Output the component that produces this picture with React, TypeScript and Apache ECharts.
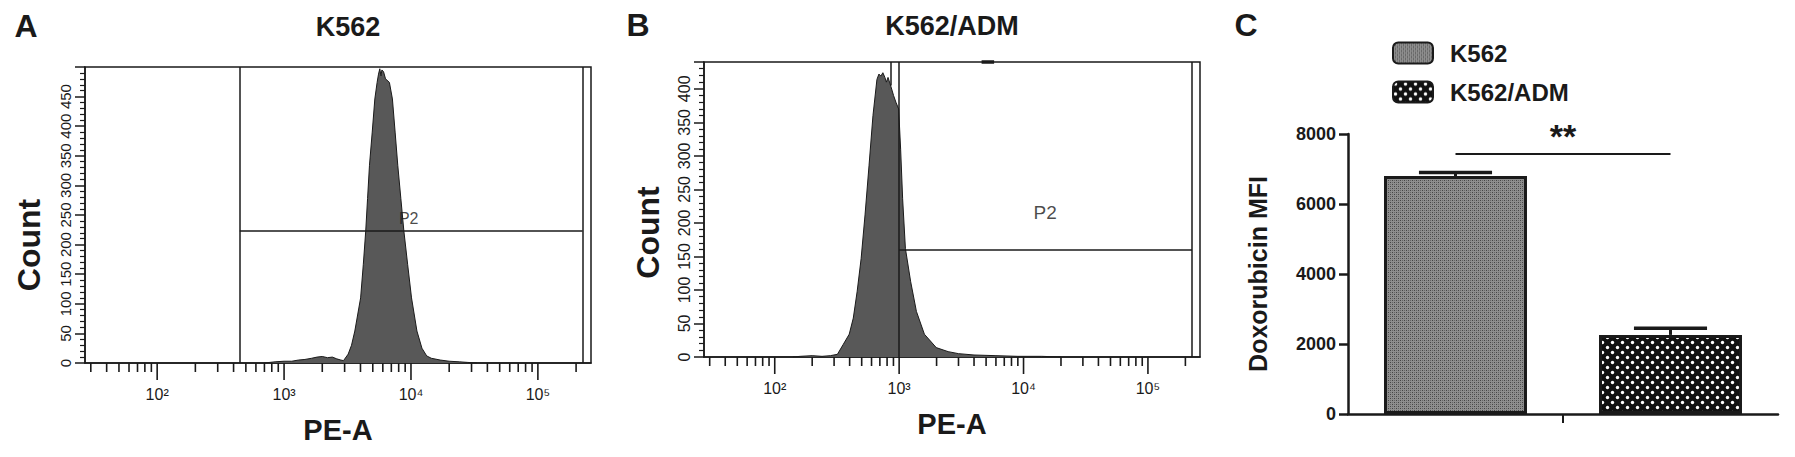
import React, { useEffect, useRef } from 'react';
import * as echarts from 'echarts';

const FONT = '"Liberation Sans", Arial, Helvetica, sans-serif';
const INK = '#1a1a1a';

// ---------- Panel A: K562 histogram (PE-A intensity, count) ----------
const histK562: [number, number][] = [
  [700, 0], [850, 2], [1000, 3], [1150, 3], [1300, 5], [1460, 6], [1650, 8], [1820, 10],
  [2000, 11], [2200, 9], [2400, 10], [2600, 7], [2800, 5], [2940, 4], [3200, 15], [3400, 30],
  [3610, 54], [4010, 110], [4210, 166], [4400, 223], [4550, 278], [4710, 334], [4950, 390],
  [5190, 446], [5410, 474], [5550, 488], [5680, 497], [5800, 485], [5900, 495], [6080, 492],
  [6300, 480], [6760, 474], [7140, 446], [7500, 390], [7870, 334], [8320, 278], [8790, 223],
  [9420, 166], [10100, 110], [11140, 54], [12200, 25], [13300, 12], [14460, 8], [17000, 5],
  [20000, 3], [24000, 2], [28000, 1], [33000, 0],
];

// ---------- Panel B: K562/ADM histogram ----------
const histK562ADM: [number, number][] = [
  [140, 0], [160, 1], [200, 2], [240, 1], [280, 2], [319, 4], [356, 19], [397, 34], [428, 58],
  [460, 98], [495, 147], [532, 212], [573, 286], [616, 360], [663, 414], [688, 422], [713, 419],
  [740, 424], [768, 417], [790, 410], [814, 417], [857, 404], [902, 390], [942, 380], [991, 370],
  [1028, 310], [1067, 236], [1123, 162], [1236, 113], [1377, 68], [1596, 34], [1988, 14],
  [2477, 8], [3000, 5], [4000, 3], [6000, 2], [9000, 1], [14000, 1], [20000, 0],
];

const peRange = [27, 262144];
const countMaxA = 500;
const countMaxB = 440;
const countStep = 50;

const peMajorTicks = [100, 1000, 10000, 100000];
const peMinorTicks = [
  30, 40, 50, 60, 70, 80, 90,
  200, 300, 400, 500, 600, 700, 800, 900,
  2000, 3000, 4000, 5000, 6000, 7000, 8000, 9000,
  20000, 30000, 40000, 50000, 60000, 70000, 80000, 90000,
  200000,
];

// gates: [left edge, level, right edge]
const gateA = [448, 223, 225000];
const gateB = [1000, 160, 226000];
const gateBSecondLine = [850, 405];
const gateBTopMark = [4600, 5800];
const p2LabelA = [9600, 244];
const p2LabelB = [14900, 216];

// ---------- Panel C: Doxorubicin MFI ----------
const groups = ['K562', 'K562/ADM'];
const mfiMean = [6800, 2260];
const mfiSem = [100, 190];
const sigLevel = 7450;
const mfiMax = 8000;
const mfiStep = 2000;

const SUP: Record<number, string> = { 2: '\u00b2', 3: '\u00b3', 4: '\u2074', 5: '\u2075' };

function peLabel(v: number) {
  const e = Math.round(Math.log10(v));
  if (Math.abs(Math.log10(v) - e) < 1e-6 && SUP[e]) return '10' + SUP[e];
  return '';
}

function makeFinePattern() {
  const c = document.createElement('canvas');
  c.width = 4; c.height = 4;
  const g = c.getContext('2d')!;
  g.fillStyle = '#8e8e8e'; g.fillRect(0, 0, 4, 4);
  g.fillStyle = '#444444'; g.fillRect(0, 0, 1, 1); g.fillRect(2, 2, 1, 1);
  g.fillStyle = '#666666'; g.fillRect(2, 0, 1, 1); g.fillRect(0, 2, 1, 1);
  return c;
}

function makeDotPattern() {
  const c = document.createElement('canvas');
  c.width = 10; c.height = 10;
  const g = c.getContext('2d')!;
  g.fillStyle = '#111'; g.fillRect(0, 0, 10, 10);
  g.fillStyle = '#fff';
  g.beginPath(); g.arc(2.5, 2.5, 1.7, 0, Math.PI * 2); g.fill();
  g.beginPath(); g.arc(7.5, 7.5, 1.7, 0, Math.PI * 2); g.fill();
  return c;
}

const lineStyle = { color: INK, width: 1.5 };

function flowXAxis(gridIndex: number) {
  return {
    type: 'log', logBase: 10, gridIndex, min: peRange[0], max: peRange[1],
    axisLine: { show: true, lineStyle },
    axisTick: { show: false }, minorTick: { show: false }, splitLine: { show: false },
    axisLabel: {
      formatter: peLabel, margin: 23, fontSize: 16, color: INK, fontFamily: FONT,
      showMinLabel: false, showMaxLabel: false,
    },
    name: 'PE-A', nameLocation: 'middle', nameGap: 52,
    nameTextStyle: { fontSize: 29, fontWeight: 'bold', color: INK, fontFamily: FONT },
  };
}

function flowYAxis(gridIndex: number, max: number, fontSize: number, shift: number) {
  return {
    type: 'value', gridIndex, min: 0, max, interval: countStep,
    axisLine: { show: true, lineStyle },
    axisTick: { show: true, length: 10, lineStyle },
    minorTick: { show: true, splitNumber: 5, length: 5, lineStyle: { color: INK, width: 1.2 } },
    splitLine: { show: false }, minorSplitLine: { show: false },
    axisLabel: { rotate: 90, fontSize, margin: 12, color: INK, fontFamily: FONT, showMaxLabel: false },
    name: 'Count', nameLocation: 'middle', nameRotate: 90, nameGap: 40,
    nameTextStyle: { fontSize: 32, fontWeight: 'bold', color: INK, fontFamily: FONT, padding: [0, shift, 0, 0] },
  };
}

function tickSeries(idx: number) {
  return {
    type: 'custom', xAxisIndex: idx, yAxisIndex: idx, silent: true, z: 5,
    data: [...peMajorTicks.map((v) => [v, 0, 1]), ...peMinorTicks.map((v) => [v, 0, 0])],
    renderItem: (_p: any, api: any) => {
      const p = api.coord([api.value(0), 0]);
      const len = api.value(2) ? 17 : 9;
      return {
        type: 'line',
        shape: { x1: p[0], y1: p[1], x2: p[0], y2: p[1] + len },
        style: { stroke: INK, lineWidth: 1.6 },
      };
    },
  };
}

function histSeries(idx: number, data: [number, number][], gates: any[]) {
  return {
    name: 'hist' + idx, type: 'line', xAxisIndex: idx, yAxisIndex: idx,
    data, showSymbol: false, symbol: 'none', smooth: false,
    lineStyle: { color: INK, width: 1 },
    areaStyle: { color: '#585858', opacity: 1 },
    z: 2,
    markLine: {
      silent: true, symbol: ['none', 'none'], label: { show: false },
      lineStyle: { color: INK, width: 1.5, type: 'solid' },
      data: gates,
    },
  };
}

function p2Series(idx: number, pos: number[], fontSize: number) {
  return {
    type: 'scatter', xAxisIndex: idx, yAxisIndex: idx, silent: true, z: 6,
    symbolSize: 0, data: [pos],
    label: { show: true, position: 'inside', formatter: 'P2', fontSize, color: INK, fontFamily: FONT },
  };
}

export default function App() {
  const ref = useRef<HTMLDivElement>(null);
  useEffect(() => {
    document.body.style.margin = '0';
    if (!ref.current) return;
    const chart = echarts.init(ref.current, undefined, { renderer: 'svg' });
    const fine = makeFinePattern();
    const dots = makeDotPattern();
    const finePat: any = { image: fine, repeat: 'repeat', imageWidth: 4, imageHeight: 4 };
    const dotPat: any = { image: dots, repeat: 'repeat', imageWidth: 10, imageHeight: 10 };

    const gatesA = [
      [{ coord: [gateA[0], 0] }, { coord: [gateA[0], countMaxA] }],
      [{ coord: [gateA[0], gateA[1]] }, { coord: [gateA[2], gateA[1]] }],
      [{ coord: [gateA[2], 0] }, { coord: [gateA[2], countMaxA] }],
    ];
    const gatesB = [
      [{ coord: [gateB[0], 0] }, { coord: [gateB[0], countMaxB] }],
      [{ coord: [gateBSecondLine[0], gateBSecondLine[1]] }, { coord: [gateBSecondLine[0], countMaxB] }],
      [{ coord: [gateB[0], gateB[1]] }, { coord: [gateB[2], gateB[1]] }],
      [{ coord: [gateB[2], 0] }, { coord: [gateB[2], countMaxB] }],
      [{ coord: [gateBTopMark[0], countMaxB], lineStyle: { width: 3.5 } }, { coord: [gateBTopMark[1], countMaxB] }],
    ];

    const titleText = (text: string, x: number, y: number, size: number) => ({
      type: 'text', x, y, silent: true,
      style: { text, fontSize: size, fontWeight: 'bold', fontFamily: FONT, fill: INK, align: 'center', verticalAlign: 'middle' },
    });

    const option: any = {
      animation: false,
      backgroundColor: '#ffffff',
      textStyle: { fontFamily: FONT },
      graphic: [
        titleText('A', 26, 26, 32),
        titleText('K562', 348, 27, 27),
        titleText('B', 638, 25, 32),
        titleText('K562/ADM', 952, 26, 27),
        titleText('C', 1246, 25, 32),
      ],
      grid: [
        { left: 85, top: 67, width: 506, height: 296, show: true, borderColor: INK, borderWidth: 1.5, backgroundColor: 'transparent' },
        { left: 704, top: 62, width: 496, height: 295, show: true, borderColor: INK, borderWidth: 1.5, backgroundColor: 'transparent' },
        { left: 1348, top: 134, width: 430, height: 280 },
      ],
      legend: {
        data: groups, orient: 'vertical', left: 1392, top: 41, padding: 0,
        itemWidth: 40, itemHeight: 21, itemGap: 15,
        textStyle: { fontSize: 24, fontWeight: 'bold', color: INK, fontFamily: FONT, padding: [0, 0, 0, 12], lineHeight: 22 },
      },
      xAxis: [
        flowXAxis(0),
        flowXAxis(1),
        {
          type: 'category', gridIndex: 2, data: groups,
          axisLine: { show: true, lineStyle: { color: INK, width: 2.5 } },
          axisTick: { show: false }, axisLabel: { show: false },
        },
      ],
      yAxis: [
        flowYAxis(0, countMaxA, 15, 60),
        flowYAxis(1, countMaxB, 16, 46),
        {
          type: 'value', gridIndex: 2, min: 0, max: mfiMax, interval: mfiStep,
          axisLine: { show: true, lineStyle: { color: INK, width: 2.5 } },
          axisTick: { show: true, length: 9, lineStyle: { color: INK, width: 2.5 } },
          splitLine: { show: false },
          axisLabel: { fontSize: 18, fontWeight: 'bold', color: INK, fontFamily: FONT, margin: 12, formatter: (v: number) => String(v) },
          name: 'Doxorubicin MFI', nameLocation: 'middle', nameRotate: 90, nameGap: 78,
          nameTextStyle: { fontSize: 25, fontWeight: 'bold', color: INK, fontFamily: FONT },
        },
      ],
      series: [
        histSeries(0, histK562, gatesA),
        tickSeries(0),
        p2Series(0, p2LabelA, 16),
        histSeries(1, histK562ADM, gatesB),
        tickSeries(1),
        p2Series(1, p2LabelB, 19),
        {
          name: groups[0], type: 'bar', xAxisIndex: 2, yAxisIndex: 2,
          data: [mfiMean[0], '-'], barWidth: '66.5%', barGap: '-100%',
          itemStyle: { color: finePat, borderColor: INK, borderWidth: 3 },
          markLine: {
            silent: true, symbol: ['none', 'none'],
            lineStyle: { color: INK, width: 2, type: 'solid' },
            label: { show: true, position: 'middle', formatter: '**', fontSize: 34, fontWeight: 'bold', color: INK, fontFamily: FONT, distance: 0 },
            data: [[{ coord: [groups[0], sigLevel] }, { coord: [groups[1], sigLevel] }]],
          },
        },
        {
          name: groups[1], type: 'bar', xAxisIndex: 2, yAxisIndex: 2,
          data: ['-', mfiMean[1]], barWidth: '66.5%', barGap: '-100%',
          itemStyle: { color: dotPat, borderColor: INK, borderWidth: 3 },
        },
        {
          type: 'custom', xAxisIndex: 2, yAxisIndex: 2, silent: true, z: 4,
          data: mfiMean.map((m, i) => [i, m, m + mfiSem[i]]),
          renderItem: (_p: any, api: any) => {
            const base = api.coord([api.value(0), api.value(1)]);
            const top = api.coord([api.value(0), api.value(2)]);
            const half = api.size([1, 0])[0] * 0.17;
            return {
              type: 'group',
              children: [
                { type: 'line', shape: { x1: base[0], y1: base[1], x2: top[0], y2: top[1] }, style: { stroke: INK, lineWidth: 3 } },
                { type: 'line', shape: { x1: top[0] - half, y1: top[1], x2: top[0] + half, y2: top[1] }, style: { stroke: INK, lineWidth: 3.5 } },
              ],
            };
          },
        },
        {
          type: 'custom', xAxisIndex: 2, yAxisIndex: 2, silent: true, z: 4,
          data: [[0, 0]],
          renderItem: (_p: any, api: any) => {
            const a = api.coord([0, 0]);
            const b = api.coord([1, 0]);
            const x = (a[0] + b[0]) / 2;
            return { type: 'line', shape: { x1: x, y1: a[1], x2: x, y2: a[1] + 9 }, style: { stroke: INK, lineWidth: 2 } };
          },
        },
      ],
    };
    chart.setOption(option);
    return () => chart.dispose();
  }, []);
  return <div ref={ref} style={{ position: 'fixed', left: 0, top: 0, width: 1795, height: 457 }} />;
}
